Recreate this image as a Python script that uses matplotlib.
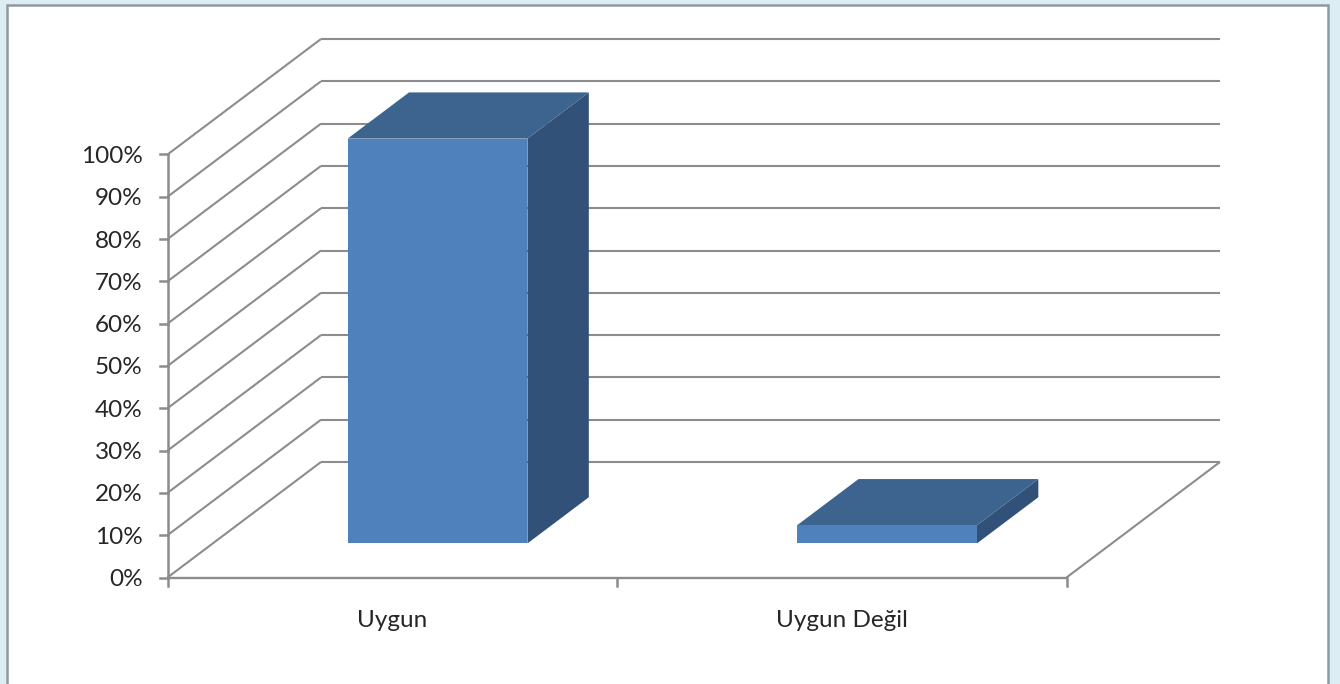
import matplotlib
matplotlib.use('Agg')
import matplotlib.pyplot as plt
from matplotlib.patches import Polygon, Rectangle

categories = ['Uygun', 'Uygun Değil']
values = [95.7, 4.3]
ticks = [0, 10, 20, 30, 40, 50, 60, 70, 80, 90, 100]
tick_labels = ['0%', '10%', '20%', '30%', '40%', '50%', '60%', '70%', '80%', '90%', '100%']

GRAY = '#8c8c8c'
FRONT = '#4f81bd'
TOP = '#3c648f'
SIDE = '#315178'
TEXT = '#262626'

# how far the back wall sits from the front plane, in data units
DEPTH_X = 153.5 / 449.5
DEPTH_Y = 115.5 / 4.23

W, H = 1340, 684
plt.rcParams['font.family'] = ['Lato', 'DejaVu Sans']

fig = plt.figure(figsize=(W / 100., H / 100.), dpi=100, facecolor='#dcedf3')
fig.add_artist(Rectangle((6.5 / W, -0.02), 1321.5 / W, 1 - 5.5 / H + 0.02, transform=fig.transFigure,
                         facecolor='white', edgecolor='#8f9a9e', lw=1.8, zorder=-1))

ax = fig.add_axes([167.5 / W, (H - 577.5) / H, 899. / W, 423. / H])
ax.set_xlim(0, len(categories))
ax.set_ylim(0, 100)
ax.axis('off')


def project(x, y, d):
    # d is depth, 0 = front plane, 1 = back wall
    return x + d * DEPTH_X, y + d * DEPTH_Y


def line(p, q, lw=1.5):
    ax.plot([p[0], q[0]], [p[1], q[1]], color=GRAY, lw=lw, clip_on=False, solid_capstyle='butt', zorder=2)


n = len(categories)
for t in ticks:
    line(project(0, t, 0), project(0, t, 1))
    line(project(0, t, 1), project(n, t, 1))
    # tick mark on the value axis
    ax.plot([0, -8 / 449.5], [t, t], color=GRAY, lw=1.8, clip_on=False, zorder=2)
line((0, 0), (0, 100), lw=1.8)
line((0, 0), (n, 0), lw=1.7)
line(project(n, 0, 0), project(n, 0, 1))
for i in range(n + 1):
    ax.plot([i, i], [0, -8 / 4.23], color=GRAY, lw=1.8, clip_on=False, zorder=2)

for lab, t in zip(tick_labels, ticks):
    ax.annotate(lab, (0, t), xytext=(-25, -2), textcoords='offset pixels', ha='right', va='center',
                fontsize=17.5, color=TEXT, annotation_clip=False)

# bars, with gap width 150% and a 0.4 deep box
for i, (cat, v) in enumerate(zip(categories, values)):
    x0, x1 = i + 0.3, i + 0.7
    d0, d1 = 0.295, 0.695
    side = [project(x1, 0, d0), project(x1, 0, d1), project(x1, v, d1), project(x1, v, d0)]
    top = [project(x0, v, d0), project(x1, v, d0), project(x1, v, d1), project(x0, v, d1)]
    front = [project(x0, 0, d0), project(x1, 0, d0), project(x1, v, d0), project(x0, v, d0)]
    ax.add_patch(Polygon(side, closed=True, facecolor=SIDE, edgecolor='none', clip_on=False, zorder=3))
    ax.add_patch(Polygon(top, closed=True, facecolor=TOP, edgecolor='none', clip_on=False, zorder=3))
    ax.add_patch(Polygon(front, closed=True, facecolor=FRONT, edgecolor='none', clip_on=False, zorder=4))
    ax.annotate(cat, (i + 0.5, 0), xytext=(0, -43), textcoords='offset pixels', ha='center', va='center',
                fontsize=17.5, color=TEXT, annotation_clip=False)

fig.savefig('out.png', dpi=100, facecolor=fig.get_facecolor())
